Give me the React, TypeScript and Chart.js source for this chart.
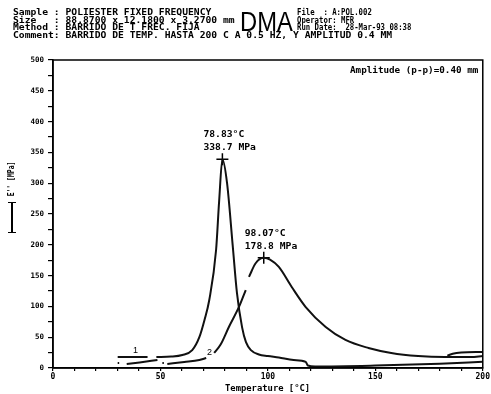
import { useEffect, useRef } from "react";
import { Chart, registerables } from "chart.js";

Chart.register(...registerables);

// Curve 1: narrow loss peak
const curveOneTemps = [30.1, 44.0, 46.0, 48.1, 55.0, 60.2, 64.8, 68.1, 70.5, 72.7, 75.9, 77.3, 78.83, 81.0, 83.6, 85.6, 88.0, 89.8, 92.1, 95.8, 100.0, 105.1, 112.0, 117.6, 118.6, 122.0, 150.0, 180.0, 200.0];
const curveOneValues = [17.9, 17.9, null, 17.9, 18.5, 21.0, 29.0, 50.0, 78.0, 110.0, 192.0, 270.0, 338.7, 300.0, 200.0, 122.0, 66.0, 42.0, 29.0, 22.0, 19.5, 17.0, 13.0, 10.0, 4.0, 2.5, 4.0, 7.0, 10.0];

// Curve 2: broad loss peak
const curveTwoTemps = [30.1, 30.8, 31.5, 34.3, 40.3, 48.6, 49.5, 50.9, 51.6, 52.3, 53.2, 61.1, 68.1, 71.3, 73.2, 75.0, 78.0, 81.9, 86.6, 89.7, 90.4, 91.2, 94.3, 98.07, 101.0, 105.1, 111.1, 117.6, 126.9, 136.1, 146.8, 157.4, 169.9, 182.4, 194.4, 200.0];
const curveTwoValues = [8.0, 8.0, null, 6.5, 9.0, 13.0, null, 8.0, 8.0, null, 6.5, 9.7, 13.0, 16.2, null, 24.4, 38.0, 67.0, 99.5, 126.6, null, 148.0, 170.0, 178.8, 176.0, 164.0, 131.5, 99.0, 66.6, 45.5, 32.5, 24.4, 19.5, 17.9, 17.9, 19.5];

// Short trace at the end of the run
const curveThreeTemps = [183.5, 186.0, 190.0, 200.0];
const curveThreeValues = [20.0, 23.0, 25.0, 26.0];

// Marked maxima
const peakTemps = [78.83, 98.07];
const peakValues = [338.7, 178.8];

const xTicks = [0, 50, 100, 150, 200];
const yTicks = [0, 50, 100, 150, 200, 250, 300, 350, 400, 450, 500];

const MONO = '"DejaVu Sans Mono", monospace';
const SANS = '"Liberation Sans", Arial, sans-serif';

const toPoints = (xs: number[], ys: (number | null)[]) => xs.map((x, i) => ({ x, y: ys[i] }));

type TxtProps = {
  x: number;
  base: number;
  size?: number;
  sx?: number;
  bold?: boolean;
  family?: string;
  children: string;
};

function Txt({ x, base, size = 8.5, sx = 1.14, bold = true, family = MONO, children }: TxtProps) {
  return (
    <div
      style={{
        position: "absolute",
        left: x,
        top: base - 0.846 * size,
        fontSize: size,
        lineHeight: `${size}px`,
        whiteSpace: "pre",
        fontFamily: family,
        fontWeight: bold ? 700 : 400,
        color: "#000",
        transform: `scaleX(${sx})`,
        transformOrigin: "left top",
        pointerEvents: "none",
      }}
    >
      {children}
    </div>
  );
}

const framePlugin = {
  id: "frame",
  afterDraw(chart: any) {
    const { ctx, chartArea: a } = chart;
    ctx.save();
    ctx.strokeStyle = "#000";
    ctx.lineWidth = 1.5;
    ctx.strokeRect(a.left, a.top, a.right - a.left, a.bottom - a.top);
    ctx.restore();
  },
};

const peakLabelPlugin = {
  id: "peakLabels",
  afterDatasetsDraw(chart: any) {
    const { ctx } = chart;
    const xs = chart.scales.x;
    const ys = chart.scales.y;
    ctx.save();
    ctx.fillStyle = "#000";
    ctx.font = `700 8.5px ${MONO}`;
    ctx.textAlign = "left";
    ctx.textBaseline = "alphabetic";
    peakTemps.forEach((t, i) => {
      const px = xs.getPixelForValue(t);
      const py = ys.getPixelForValue(peakValues[i]);
      const lines = [`${t.toFixed(2)}°C`, `${peakValues[i].toFixed(1)} MPa`];
      lines.forEach((s, k) => {
        ctx.save();
        ctx.translate(px - 19, py - 22 + k * 13);
        ctx.scale(1.14, 1);
        ctx.fillText(s, 0, 0);
        ctx.restore();
      });
    });
    ctx.restore();
  },
};

export default function App() {
  const canvasRef = useRef<HTMLCanvasElement>(null);

  useEffect(() => {
    const line = {
      borderColor: "#111",
      borderWidth: 2,
      pointRadius: 0,
      cubicInterpolationMode: "monotone" as const,
      spanGaps: false,
      fill: false,
    };
    const chart = new Chart(canvasRef.current!, {
      type: "line",
      data: {
        datasets: [
          { ...line, label: "1", data: toPoints(curveOneTemps, curveOneValues) },
          { ...line, label: "2", data: toPoints(curveTwoTemps, curveTwoValues) },
          { ...line, label: "3", data: toPoints(curveThreeTemps, curveThreeValues) },
          {
            label: "peaks",
            data: toPoints(peakTemps, peakValues),
            showLine: false,
            pointStyle: "cross",
            pointRadius: 6,
            pointBorderWidth: 1.5,
            pointBorderColor: "#000",
            borderColor: "#000",
          },
        ],
      },
      options: {
        animation: false,
        responsive: false,
        devicePixelRatio: 1,
        layout: { padding: { left: 0, top: 60, right: 6, bottom: 0 } },
        plugins: { legend: { display: false }, tooltip: { enabled: false } },
        scales: {
          x: {
            type: "linear",
            min: xTicks[0],
            max: xTicks[xTicks.length - 1],
            afterFit: (s: any) => {
              s.height = 26;
            },
            ticks: {
              stepSize: 10,
              autoSkip: false,
              maxRotation: 0,
              padding: 1,
              color: "#000",
              font: { family: MONO, size: 8, weight: "bold" },
              callback: (v: any) => (xTicks.includes(Number(v)) ? String(v) : ""),
            },
            grid: { drawOnChartArea: false, tickLength: 3, color: "#000", lineWidth: 1.2 },
            border: { color: "#000", width: 1.5 },
          },
          y: {
            type: "linear",
            min: yTicks[0],
            max: yTicks[yTicks.length - 1],
            afterFit: (s: any) => {
              s.width = 53;
            },
            ticks: {
              stepSize: 25,
              autoSkip: false,
              padding: 4,
              color: "#000",
              font: { family: MONO, size: 7.5, weight: "bold" },
              callback: (v: any) => (yTicks.includes(Number(v)) ? String(v) : ""),
            },
            grid: { drawOnChartArea: false, tickLength: 5, color: "#000", lineWidth: 1.2 },
            border: { color: "#000", width: 1.5 },
          },
        },
      },
      plugins: [framePlugin, peakLabelPlugin],
    });
    return () => chart.destroy();
  }, []);

  return (
    <div
      style={{
        position: "fixed",
        left: 0,
        top: 0,
        width: 491,
        height: 394,
        background: "#fff",
        overflow: "hidden",
      }}
    >
      <canvas
        ref={canvasRef}
        width={491}
        height={394}
        style={{ position: "absolute", left: 0, top: 0, width: 491, height: 394 }}
      />

      {/* run header */}
      <Txt x={13} base={15}>{"Sample : POLIESTER FIXED FREQUENCY"}</Txt>
      <Txt x={13} base={23}>{"Size   : 88.8700 x 12.1800 x 3.2700 mm"}</Txt>
      <Txt x={13} base={30.5}>{"Method : BARRIDO DE T FREC. FIJA"}</Txt>
      <Txt x={13} base={38}>{"Comment: BARRIDO DE TEMP. HASTA 200 C A 0.5 HZ, Y AMPLITUD 0.4 MM"}</Txt>

      <Txt x={297} base={15} sx={0.86}>{"File  : A:POL.002"}</Txt>
      <Txt x={297} base={23} sx={0.86}>{"Operator: MFR"}</Txt>
      <Txt x={297} base={30.5} sx={0.86}>{"Run Date:  28-Mar-93 08:38"}</Txt>

      <Txt x={240} base={32} size={27} sx={0.88} bold={false} family={SANS}>{"DMA"}</Txt>

      {/* plot annotations */}
      <Txt x={350} base={73} sx={1.09}>{"Amplitude (p-p)=0.40 mm"}</Txt>
      <Txt x={133} base={354} size={9} sx={1} bold={false} family={SANS}>{"1"}</Txt>
      <Txt x={207} base={356} size={9} sx={1} bold={false} family={SANS}>{"2"}</Txt>
      <Txt x={225} base={391} sx={1.04}>{"Temperature [°C]"}</Txt>

      {/* y axis title with line sample */}
      <div
        style={{
          position: "absolute",
          left: 12,
          top: 179,
          transform: "translate(-50%, -50%) rotate(-90deg) scaleX(0.8)",
          fontFamily: MONO,
          fontWeight: 700,
          fontSize: 8,
          lineHeight: "8px",
          whiteSpace: "pre",
          color: "#000",
        }}
      >
        {"E'' [MPa]"}
      </div>
      <div
        style={{
          position: "absolute",
          left: 8,
          top: 202,
          width: 8,
          height: 31,
          borderTop: "1.5px solid #000",
          borderBottom: "1.5px solid #000",
          boxSizing: "border-box",
        }}
      >
        <div style={{ position: "absolute", left: 3.25, top: 0, width: 1.5, height: "100%", background: "#000" }} />
      </div>
    </div>
  );
}
